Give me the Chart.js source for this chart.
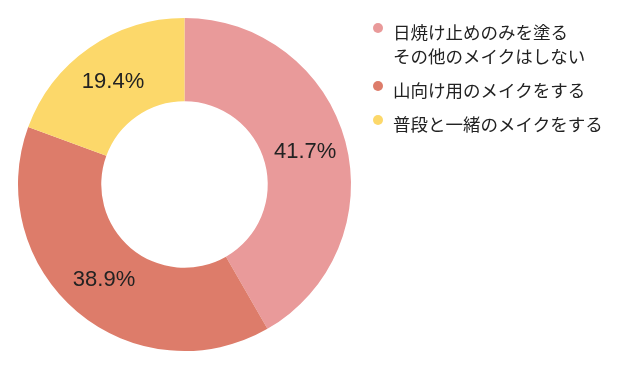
<!DOCTYPE html>
<html>
<head>
<meta charset="utf-8">
<script src="https://cdn.jsdelivr.net/npm/chart.js@4/dist/chart.umd.min.js"></script>
<style>
  html, body { margin: 0; padding: 0; background: #fff; }
  #wrap { position: relative; width: 630px; height: 369px; }
  #legend { position: absolute; left: 372px; top: 20px; font-family: "Noto Sans CJK JP", sans-serif; font-size: 17.5px; color: #222; }
  .item { position: relative; padding-left: 21px; line-height: 24px; margin-bottom: 10px; }
  .dot { position: absolute; left: 1px; top: 3px; width: 10px; height: 10px; border-radius: 50%; }
</style>
</head>
<body>
<div id="wrap">
  <canvas id="pie" width="630" height="369"></canvas>
  <div id="legend"></div>
</div>
<script>
// data
const categories = [['日焼け止めのみを塗る', 'その他のメイクはしない'], ['山向け用のメイクをする'], ['普段と一緒のメイクをする']];
const shares = [41.7, 38.9, 19.4];
const colors = ['#E99A9A', '#DD7C6A', '#FCD86A'];

// legend
const legend = document.getElementById('legend');
categories.forEach((lines, i) => {
    const div = document.createElement('div');
    div.className = 'item';
    const dot = document.createElement('span');
    dot.className = 'dot';
    dot.style.background = colors[i];
    div.appendChild(dot);
    lines.forEach((t, j) => {
        if (j > 0) div.appendChild(document.createElement('br'));
        div.appendChild(document.createTextNode(t));
    });
    legend.appendChild(div);
});

// percentage labels in the middle of each ring segment
const sliceLabels = {
    id: 'sliceLabels',
    afterDatasetsDraw(chart) {
        const ctx = chart.ctx;
        const meta = chart.getDatasetMeta(0);
        ctx.save();
        ctx.font = '22px "Liberation Sans", Arial, sans-serif';
        ctx.fillStyle = '#222';
        ctx.textAlign = 'center';
        ctx.textBaseline = 'middle';
        meta.data.forEach((arc, i) => {
            const p = arc.tooltipPosition();
            ctx.fillText(shares[i].toFixed(1) + '%', p.x, p.y);
        });
        ctx.restore();
    }
};

new Chart(document.getElementById('pie').getContext('2d'), {
    type: 'doughnut',
    data: {
        labels: categories.map(l => l.join('')),
        datasets: [{
            data: shares,
            backgroundColor: colors,
            borderWidth: 0
        }]
    },
    options: {
        responsive: false,
        animation: false,
        cutout: '50%',
        layout: { padding: { left: 18, top: 18, right: 279, bottom: 18 } },
        plugins: {
            legend: { display: false },
            tooltip: { enabled: false }
        }
    },
    plugins: [sliceLabels]
});
</script>
</body>
</html>
